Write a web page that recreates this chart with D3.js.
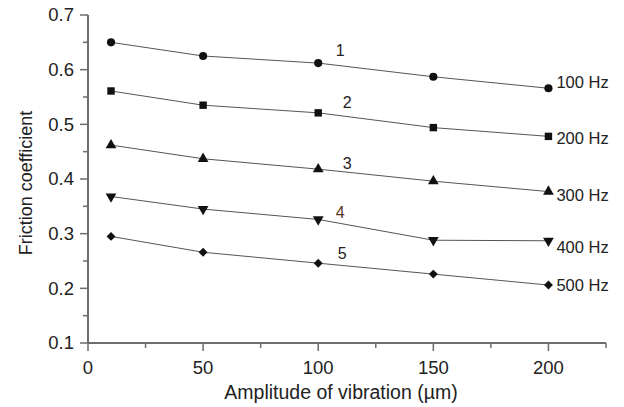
<!DOCTYPE html>
<html>
<head>
<meta charset="utf-8">
<script src="https://cdn.jsdelivr.net/npm/d3@7"></script>
<style>
  body { margin: 0; background: #fff; }
  text { font-family: "Liberation Sans", Arial, sans-serif; fill: #222; }
</style>
</head>
<body>
<div id="chart"></div>
<script>
// amplitudes (µm) and friction coefficient per frequency
let amplitudes = [10, 50, 100, 150, 200];
let f100 = [0.650, 0.625, 0.612, 0.587, 0.566];
let f200 = [0.561, 0.535, 0.521, 0.494, 0.478];
let f300 = [0.462, 0.437, 0.418, 0.396, 0.377];
let f400 = [0.368, 0.345, 0.326, 0.288, 0.287];
let f500 = [0.295, 0.266, 0.246, 0.226, 0.206];
let seriesNames = ["100 Hz", "200 Hz", "300 Hz", "400 Hz", "500 Hz"];
let seriesNums = ["1", "2", "3", "4", "5"];
let xTicks = [0, 50, 100, 150, 200];
let yTicks = [0.1, 0.2, 0.3, 0.4, 0.5, 0.6, 0.7];

let series = [f100, f200, f300, f400, f500];

let width = 624, height = 407;

let x = d3.scaleLinear().domain([0, 225]).range([88, 606]);
let y = d3.scaleLinear().domain([0.1, 0.7]).range([343, 15]);

let svg = d3.select("#chart")
    .append("svg")
    .attr("width", width)
    .attr("height", height);

// axes
let axisColor = "#6d6d6d";
let xAxis = svg.append("g").attr("transform", `translate(0,${y(0.1)})`);
xAxis.append("line").attr("x1", x(0)).attr("x2", x(225))
    .attr("stroke", axisColor).attr("stroke-width", 2);
xAxis.selectAll(".tk").data(d3.range(0, 226, 25)).join("line")
    .attr("x1", d => x(d)).attr("x2", d => x(d))
    .attr("y1", 0).attr("y2", d => d % 50 == 0 ? 8 : 5)
    .attr("stroke", axisColor).attr("stroke-width", 1.5);
xAxis.selectAll("text").data(xTicks).join("text")
    .attr("x", d => x(d)).attr("y", 31)
    .attr("text-anchor", "middle").attr("font-size", 18.5)
    .text(d => d);

let yAxis = svg.append("g").attr("transform", `translate(${x(0)},0)`);
yAxis.append("line").attr("y1", y(0.1)).attr("y2", y(0.7))
    .attr("stroke", axisColor).attr("stroke-width", 2);
yAxis.selectAll(".tk").data(d3.range(0.1, 0.701, 0.05)).join("line")
    .attr("y1", d => y(d)).attr("y2", d => y(d))
    .attr("x1", 0).attr("x2", (d, i) => i % 2 == 0 ? -8 : -5)
    .attr("stroke", axisColor).attr("stroke-width", 1.5);
yAxis.selectAll("text").data(yTicks).join("text")
    .attr("x", -14).attr("y", d => y(d)).attr("dy", "0.35em")
    .attr("text-anchor", "end").attr("font-size", 18.5)
    .text(d => d.toFixed(1));

svg.append("text")
    .attr("x", 341).attr("y", 399)
    .attr("text-anchor", "middle").attr("font-size", 19.5)
    .text("Amplitude of vibration (µm)");

svg.append("text")
    .attr("transform", "translate(32,183) rotate(-90)")
    .attr("text-anchor", "middle").attr("font-size", 18)
    .text("Friction coefficient");

// lines + markers
let line = d3.line().x((d, i) => x(amplitudes[i])).y(d => y(d));
let numOffset = [-13, -10, -6, -7, -10];
let numShift = [0, 7, 7, 0, 2];
let hzOffset = [-6, 2, 4, 6, 0];

series.forEach((s, k) => {
    svg.append("path").datum(s)
        .attr("d", line)
        .attr("fill", "none").attr("stroke", "#555").attr("stroke-width", 1);

    let sym = [d3.symbolCircle, d3.symbolSquare, d3.symbolTriangle, d3.symbolTriangle, d3.symbolSquare][k];
    let rot = [0, 0, 0, 180, 45][k];
    let size = [52, 55, 50, 50, 40][k];
    svg.selectAll(".m" + k).data(s).join("path")
        .attr("transform", (d, i) => `translate(${x(amplitudes[i])},${y(d)}) rotate(${rot})`)
        .attr("d", d3.symbol().type(sym).size(size))
        .attr("fill", "#111");

    // series number above the line
    svg.append("text")
        .attr("x", x(110) + numShift[k] - 1)
        .attr("y", y(s[2]) + numOffset[k]).attr("dy", "0.35em")
        .attr("text-anchor", "middle").attr("font-size", 16)
        .style("fill", k == 3 ? "#5a3424" : "#222")
        .text(seriesNums[k]);

    // frequency label at the end
    svg.append("text")
        .attr("x", x(200) + 8).attr("y", y(s[4]) + hzOffset[k]).attr("dy", "0.35em")
        .attr("font-size", 16.5)
        .text(seriesNames[k]);
});
</script>
</body>
</html>
